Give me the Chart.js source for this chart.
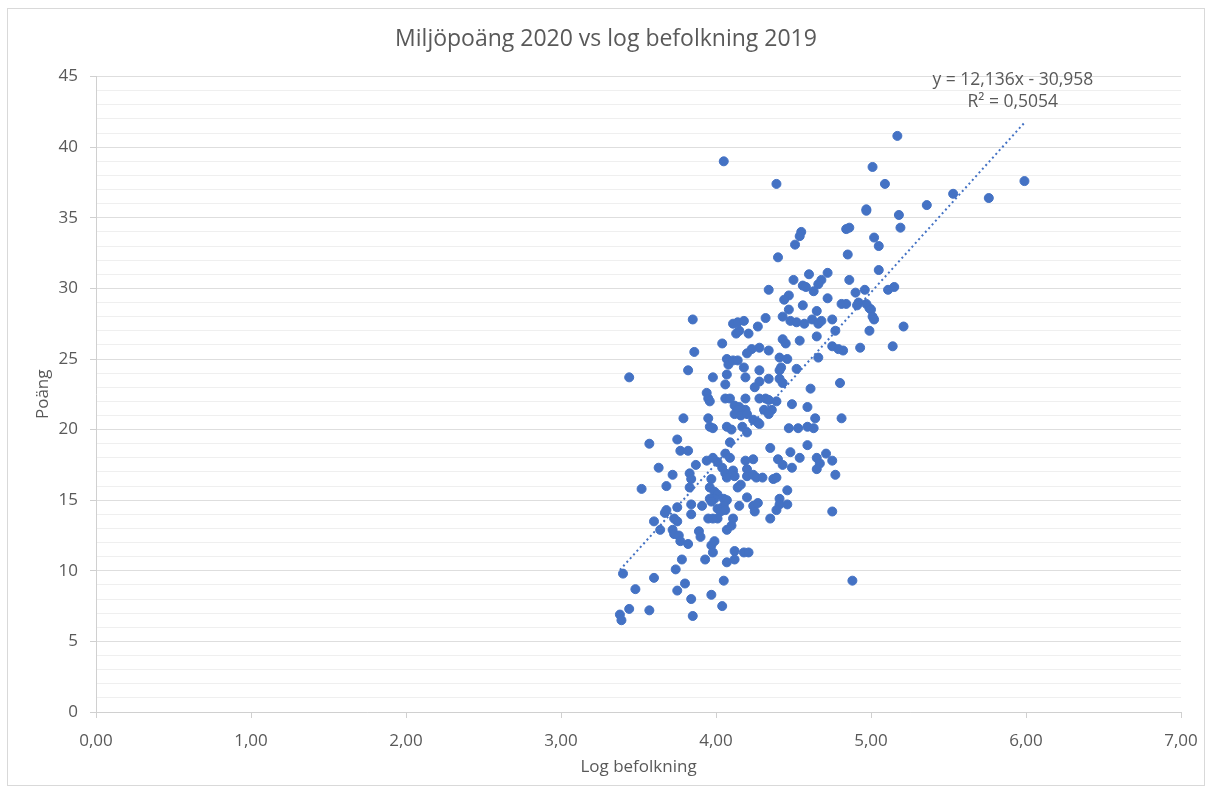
<!DOCTYPE html>
<html>
<head>
<meta charset="utf-8">
<script src="https://cdn.jsdelivr.net/npm/chart.js@4.4.1/dist/chart.umd.min.js"></script>
<style>
  html, body { margin: 0; padding: 0; background: #ffffff; }
  #wrap { position: relative; width: 1212px; height: 793px; }
</style>
</head>
<body>
<div id="wrap"><canvas id="c" width="1212" height="793"></canvas></div>
<script>
// Texts
const chartTitle = 'Miljöpoäng 2020 vs log befolkning 2019';
const xAxisTitle = 'Log befolkning';
const yAxisTitle = 'Poäng';
const trendLabel = ['y = 12,136x - 30,958', 'R² = 0,5054'];

// Axis ranges / ticks
const xTickValues = [0, 1, 2, 3, 4, 5, 6, 7];
const yTickValues = [0, 5, 10, 15, 20, 25, 30, 35, 40, 45];

// Linear trend (from the equation label)
const trendSlope = 12.136;
const trendIntercept = -30.958;

// log10 of population 2019, per municipality
const logBefolkning = [
  5.17, 5.01, 5.09, 5.53, 5.36, 4.97, 4.97, 5.18, 5.19, 4.84, 4.86, 5.02, 5.05, 4.85, 5.05, 4.86,
  5.99, 5.76, 4.39, 4.05, 4.55, 4.54, 4.51, 4.40, 4.96, 5.11, 5.15, 4.90, 4.81, 4.84, 4.92, 4.91,
  4.97, 4.99, 5.00, 5.01, 5.02, 5.21, 4.99, 4.93, 5.14, 4.82, 4.80, 4.81, 4.88,
  4.72, 4.68, 4.66, 4.60, 4.50, 4.56, 4.58, 4.63, 4.34, 4.72, 4.47, 4.44, 4.56, 4.47, 4.65, 4.43,
  4.32, 4.27, 4.21, 4.48, 4.52, 4.57, 4.62, 4.66, 4.68, 4.75, 4.77, 4.65, 4.54, 4.43, 4.45,
  4.11, 4.14, 4.18, 4.13, 4.15, 4.04, 4.28, 4.23, 4.20, 4.34, 4.75, 4.79, 4.07, 4.08, 4.11, 4.14,
  4.18, 4.41, 4.46, 4.66, 4.42, 4.41, 4.52, 4.28, 4.07, 4.19, 4.28, 4.34, 4.41, 4.43,
  4.06, 4.25, 4.61, 4.06, 4.09, 4.19, 4.28, 4.32, 4.34, 4.39, 4.49, 4.59, 4.12, 4.15, 4.19, 4.14,
  4.31, 4.36, 4.34, 4.12, 4.16, 4.20, 4.24, 4.27, 4.64, 4.07, 4.10, 4.17, 4.20, 4.28, 4.47, 4.53,
  4.59, 4.63, 4.09, 4.35, 4.59, 4.48, 4.71, 4.06, 4.09, 4.19, 4.24, 4.40, 4.43, 4.54, 4.65, 4.67,
  4.75, 4.49, 4.65, 4.77, 4.01, 4.04, 4.06, 4.07, 4.11, 4.12, 4.20, 4.20, 4.24, 4.26, 4.30, 4.37,
  4.39, 4.16, 4.14, 4.46, 4.05, 4.07, 4.20, 4.41, 4.41, 4.46, 4.15, 4.24, 4.27, 4.75,
  4.25, 4.39, 4.35, 4.11, 4.10, 4.07, 3.97, 3.99, 3.98, 4.12, 4.18, 4.21, 4.12, 4.07, 4.05,
  3.44, 3.82, 3.98, 3.94, 3.95, 3.96, 3.79, 3.95, 3.96, 3.98, 3.57, 3.75, 3.77, 3.82, 3.63, 3.72,
  3.87, 3.94, 3.98, 3.83, 3.84, 3.97, 3.52, 3.68, 3.83,
  3.96, 3.99, 4.01, 3.99, 3.96, 3.97, 4.05, 4.01, 4.03, 4.06, 4.01, 3.95, 3.98,
  3.68, 3.67, 3.75, 3.84, 3.91, 3.84, 3.60, 3.73, 3.75, 3.64, 3.72, 3.73, 3.76, 3.77, 3.82, 3.89,
  3.90, 3.78, 3.93, 3.74, 3.40, 3.60, 3.80, 3.75, 3.48, 3.97, 3.84, 4.04, 3.44, 3.57, 3.38, 3.39,
  3.85, 3.85, 3.86
];

// Miljöpoäng 2020, same order
const miljopoang = [
  40.8, 38.6, 37.4, 36.7, 35.9, 35.6, 35.5, 35.2, 34.3, 34.2, 34.3, 33.6, 33.0, 32.4, 31.3, 30.6,
  37.6, 36.4, 37.4, 39.0, 34.0, 33.7, 33.1, 32.2, 29.9, 29.9, 30.1, 29.7, 28.9, 28.9, 29.0, 28.8,
  28.9, 28.6, 28.5, 28.0, 27.8, 27.3, 27.0, 25.8, 25.9, 25.6, 23.3, 20.8, 9.3,
  31.1, 30.6, 30.3, 31.0, 30.6, 30.2, 30.1, 29.8, 29.9, 29.3, 29.5, 29.2, 28.8, 28.5, 28.4, 28.0,
  27.9, 27.3, 26.8, 27.7, 27.6, 27.5, 27.8, 27.5, 27.7, 27.8, 27.0, 26.6, 26.3, 26.4, 26.1,
  27.5, 27.6, 27.7, 26.8, 27.0, 26.1, 25.8, 25.7, 25.4, 25.6, 25.9, 25.7, 25.0, 24.6, 24.9, 24.9,
  24.4, 25.1, 25.0, 25.1, 24.4, 24.2, 24.3, 24.2, 23.9, 23.7, 23.4, 23.6, 23.6, 23.3,
  23.2, 23.0, 22.9, 22.2, 22.2, 22.2, 22.2, 22.2, 22.1, 22.0, 21.8, 21.6, 21.7, 21.6, 21.4, 21.4,
  21.4, 21.4, 21.1, 21.1, 21.0, 21.1, 20.7, 20.5, 20.8, 20.2, 20.0, 20.2, 19.8, 20.4, 20.1, 20.1,
  20.2, 20.1, 19.1, 18.7, 18.9, 18.4, 18.3, 18.3, 18.0, 17.8, 17.9, 17.9, 17.5, 18.0, 18.0, 17.6,
  17.8, 17.3, 17.2, 16.8, 17.7, 17.3, 16.9, 16.6, 17.1, 16.7, 17.2, 16.7, 16.8, 16.6, 16.6, 16.5,
  16.6, 16.1, 15.9, 15.7, 15.1, 15.0, 15.2, 15.1, 14.7, 14.7, 14.6, 14.6, 14.8, 14.2,
  14.2, 14.3, 13.7, 13.7, 13.2, 12.9, 11.8, 12.1, 11.3, 11.4, 11.3, 11.3, 10.8, 10.6, 9.3,
  23.7, 24.2, 23.7, 22.6, 22.2, 22.0, 20.8, 20.8, 20.2, 20.1, 19.0, 19.3, 18.5, 18.5, 17.3, 16.8,
  17.5, 17.8, 18.0, 16.9, 16.5, 16.5, 15.8, 16.0, 15.9,
  15.9, 15.6, 15.4, 15.1, 15.1, 14.9, 14.6, 14.4, 14.2, 14.3, 13.7, 13.7, 13.7,
  14.3, 14.1, 14.5, 14.7, 14.6, 14.0, 13.5, 13.7, 13.5, 12.9, 12.9, 12.6, 12.5, 12.1, 11.9, 12.8,
  12.4, 10.8, 10.8, 10.1, 9.8, 9.5, 9.1, 8.6, 8.7, 8.3, 8.0, 7.5, 7.3, 7.2, 6.9, 6.5,
  6.8, 27.8, 25.5
];

const points = logBefolkning.map((x, i) => ({ x: x, y: miljopoang[i] }));
const xMin = Math.min(...logBefolkning);
const xMax = Math.max(...logBefolkning);
const trendPoints = [xMin, xMax].map(x => ({ x: x, y: trendSlope * x + trendIntercept }));

const blue = '#4472C4';
const textGrey = '#595959';
const axisGrey = '#d0d0d0';
const majorGrid = '#dedede';
const minorGrid = '#efefef';
const fontFamily = '"Open Sans", "Noto Sans", sans-serif';

const frame = {
  id: 'frame',
  beforeDraw(chart) {
    const c = chart.ctx;
    c.save();
    c.fillStyle = '#ffffff';
    c.fillRect(0, 0, chart.width, chart.height);
    c.strokeStyle = '#d9d9d9';
    c.lineWidth = 1;
    c.strokeRect(7.5, 8.5, 1197, 777);
    c.restore();
  }
};

const equationLabel = {
  id: 'equationLabel',
  afterDatasetsDraw(chart) {
    const c = chart.ctx;
    const xs = chart.scales.x, ys = chart.scales.y;
    const cx = xs.getPixelForValue(5.915);
    c.save();
    c.fillStyle = textGrey;
    c.font = '17.5px ' + fontFamily;
    c.textAlign = 'center';
    c.textBaseline = 'middle';
    c.fillText(trendLabel[0], cx, ys.getPixelForValue(44.75));
    c.fillText(trendLabel[1], cx, ys.getPixelForValue(43.2));
    c.restore();
  }
};

new Chart(document.getElementById('c'), {
  type: 'scatter',
  data: {
    datasets: [
      {
        type: 'line',
        label: 'Trend',
        data: trendPoints,
        borderColor: blue,
        borderWidth: 2,
        borderDash: [2, 3],
        pointRadius: 0,
        fill: false,
        order: 0
      },
      {
        label: 'Miljöpoäng',
        data: points,
        backgroundColor: blue,
        borderColor: blue,
        borderWidth: 1,
        pointRadius: 4.5,
        order: 1
      }
    ]
  },
  options: {
    responsive: false,
    animation: false,
    devicePixelRatio: 1,
    layout: { padding: { left: 31, right: 31, top: 0, bottom: 8 } },
    plugins: {
      legend: { display: false },
      tooltip: { enabled: false },
      title: {
        display: true,
        text: chartTitle,
        color: textGrey,
        font: { family: fontFamily, size: 23, weight: 'normal' },
        padding: { top: 26, bottom: 23 }
      }
    },
    scales: {
      x: {
        type: 'linear',
        min: 0,
        max: 7,
        afterFit(scale) { scale.height = 73; },
        afterBuildTicks(scale) { scale.ticks = xTickValues.map(v => ({ value: v })); },
        ticks: {
          color: textGrey,
          font: { family: fontFamily, size: 17 },
          padding: 13,
          maxRotation: 0,
          callback: v => v.toFixed(2).replace('.', ',')
        },
        grid: { drawOnChartArea: false, drawTicks: true, tickLength: 6, color: axisGrey },
        border: { color: axisGrey },
        title: {
          display: true,
          text: xAxisTitle,
          color: textGrey,
          font: { family: fontFamily, size: 17 },
          padding: { top: 0, bottom: 8 }
        }
      },
      y: {
        type: 'linear',
        min: 0,
        max: 45,
        afterFit(scale) { scale.width = 65; },
        ticks: {
          stepSize: 1,
          autoSkip: false,
          color: textGrey,
          font: { family: fontFamily, size: 17 },
          padding: 12,
          callback: v => (yTickValues.includes(v) ? String(v) : '')
        },
        grid: {
          drawTicks: true,
          tickLength: 6,
          color: ctx => (ctx.tick && ctx.tick.value % 5 === 0 ? majorGrid : minorGrid),
          tickColor: ctx => (ctx.tick && ctx.tick.value % 5 === 0 ? axisGrey : 'rgba(0,0,0,0)')
        },
        border: { color: axisGrey },
        title: {
          display: true,
          text: yAxisTitle,
          color: textGrey,
          font: { family: fontFamily, size: 17 },
          padding: { top: 2, bottom: 0 }
        }
      }
    }
  },
  plugins: [frame, equationLabel]
});
</script>
</body>
</html>
